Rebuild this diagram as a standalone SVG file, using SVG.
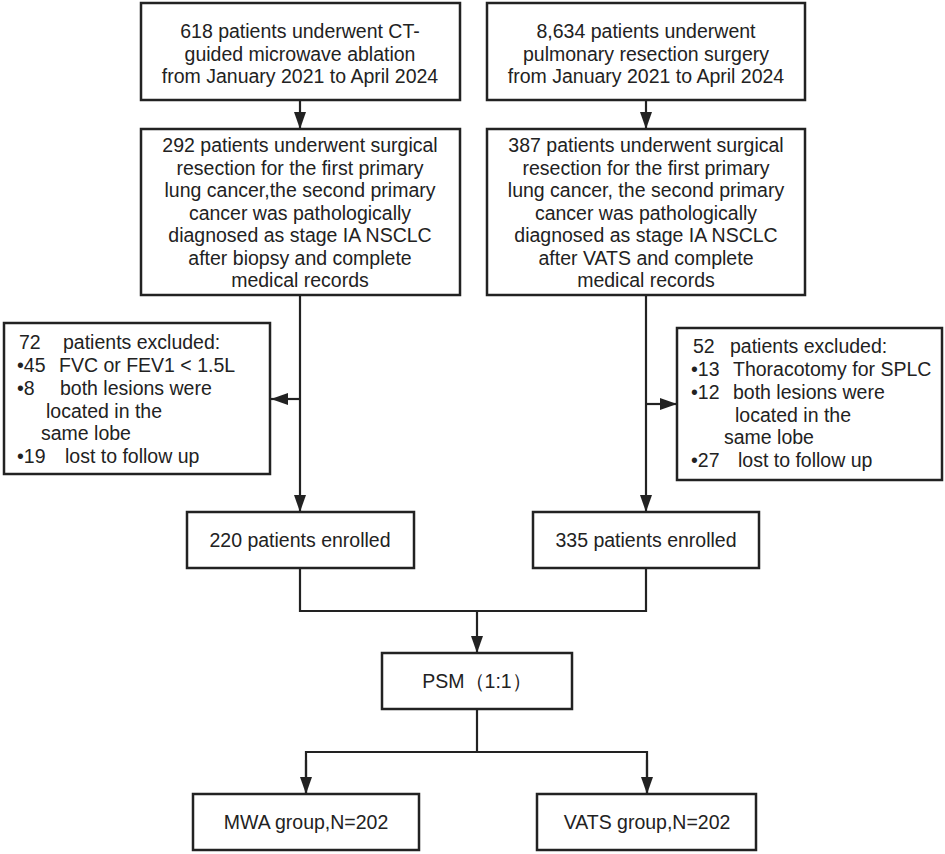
<svg xmlns="http://www.w3.org/2000/svg" width="945" height="854" viewBox="0 0 945 854">
<defs>
<style>
.box{fill:#fff;stroke:#222;stroke-width:2.5}
.t{font-family:"Liberation Sans",Arial,sans-serif;font-size:19.5px;fill:#222}
.c{text-anchor:middle}
.ln{fill:none;stroke:#222;stroke-width:2.2}
</style>
<marker id="a" viewBox="0 0 17 12" refX="17" refY="6" markerWidth="17" markerHeight="12" orient="auto" markerUnits="userSpaceOnUse">
<path d="M0,0 L17,6 L0,12 Z" fill="#222"/>
</marker>
</defs>
<rect width="945" height="854" fill="#fff"/>
<g id="connectors">
<line class="ln" x1="300" y1="100" x2="300" y2="129" marker-end="url(#a)"/>
<line class="ln" x1="646" y1="100" x2="646" y2="129" marker-end="url(#a)"/>
<line class="ln" x1="300" y1="295" x2="300" y2="512" marker-end="url(#a)"/>
<line class="ln" x1="300" y1="399" x2="271" y2="399" marker-end="url(#a)"/>
<line class="ln" x1="646" y1="295" x2="646" y2="512" marker-end="url(#a)"/>
<line class="ln" x1="646" y1="404" x2="677" y2="404" marker-end="url(#a)"/>
<polyline class="ln" points="300,568 300,611 646,611 646,568"/>
<line class="ln" x1="477" y1="611" x2="477" y2="653" marker-end="url(#a)"/>
<line class="ln" x1="477" y1="709" x2="477" y2="752"/>
<polyline class="ln" points="306,794 306,752 647,752 647,794"/>
<line class="ln" x1="306" y1="760" x2="306" y2="794" marker-end="url(#a)"/>
<line class="ln" x1="647" y1="760" x2="647" y2="794" marker-end="url(#a)"/>
</g>
<g id="n1">
<rect class="box" x="141" y="3" width="319" height="97"/>
<text class="t c" x="300" y="38">618 patients underwent CT-</text>
<text class="t c" x="300" y="60.5">guided microwave ablation</text>
<text class="t c" x="300" y="83">from January 2021 to April 2024</text>
</g>
<g id="n2">
<rect class="box" x="487" y="3" width="318" height="97"/>
<text class="t c" x="646" y="38">8,634 patients underwent</text>
<text class="t c" x="646" y="60.5">pulmonary resection surgery</text>
<text class="t c" x="646" y="83">from January 2021 to April 2024</text>
</g>
<g id="n3">
<rect class="box" x="141" y="129" width="319" height="166"/>
<text class="t c" x="300" y="152">292 patients underwent surgical</text>
<text class="t c" x="300" y="174.5">resection for the first primary</text>
<text class="t c" x="300" y="197">lung cancer,the second primary</text>
<text class="t c" x="300" y="219.5">cancer was pathologically</text>
<text class="t c" x="300" y="242">diagnosed as stage IA NSCLC</text>
<text class="t c" x="300" y="264.5">after biopsy and complete</text>
<text class="t c" x="300" y="287">medical records</text>
</g>
<g id="n4">
<rect class="box" x="487" y="129" width="318" height="166"/>
<text class="t c" x="646" y="152">387 patients underwent surgical</text>
<text class="t c" x="646" y="174.5">resection for the first primary</text>
<text class="t c" x="646" y="197">lung cancer, the second primary</text>
<text class="t c" x="646" y="219.5">cancer was pathologically</text>
<text class="t c" x="646" y="242">diagnosed as stage IA NSCLC</text>
<text class="t c" x="646" y="264.5">after VATS and complete</text>
<text class="t c" x="646" y="287">medical records</text>
</g>
<g id="n5">
<rect class="box" x="4" y="323" width="266" height="151"/>
<text class="t" y="349"><tspan x="19">72</tspan><tspan x="63">patients excluded:</tspan></text>
<text class="t" y="372"><tspan x="17">•45</tspan><tspan x="59">FVC or FEV1 &lt; 1.5L</tspan></text>
<text class="t" y="395"><tspan x="17">•8</tspan><tspan x="60">both lesions were</tspan></text>
<text class="t" y="417.5"><tspan x="46">located in the</tspan></text>
<text class="t" y="440"><tspan x="41">same lobe</tspan></text>
<text class="t" y="463"><tspan x="17">•19</tspan><tspan x="65">lost to follow up</tspan></text>
</g>
<g id="n6">
<rect class="box" x="677" y="328" width="265" height="152"/>
<text class="t" y="353"><tspan x="693">52</tspan><tspan x="730">patients excluded:</tspan></text>
<text class="t" y="376"><tspan x="691">•13</tspan><tspan x="733">Thoracotomy for SPLC</tspan></text>
<text class="t" y="399"><tspan x="691">•12</tspan><tspan x="733">both lesions were</tspan></text>
<text class="t" y="421.5"><tspan x="735">located in the</tspan></text>
<text class="t" y="444"><tspan x="724">same lobe</tspan></text>
<text class="t" y="467"><tspan x="691">•27</tspan><tspan x="738">lost to follow up</tspan></text>
</g>
<g id="n7">
<rect class="box" x="187" y="512" width="227" height="56"/>
<text class="t c" x="300" y="547">220 patients enrolled</text>
</g>
<g id="n8">
<rect class="box" x="533" y="512" width="226" height="56"/>
<text class="t c" x="646" y="547">335 patients enrolled</text>
</g>
<g id="n9">
<rect class="box" x="382" y="653" width="190" height="56"/>
<text class="t c" x="477" y="688">PSM（1:1）</text>
</g>
<g id="n10">
<rect class="box" x="193" y="794" width="226" height="56"/>
<text class="t c" x="306" y="829">MWA group,N=202</text>
</g>
<g id="n11">
<rect class="box" x="537" y="794" width="219" height="56"/>
<text class="t c" x="647" y="829">VATS group,N=202</text>
</g>
</svg>
